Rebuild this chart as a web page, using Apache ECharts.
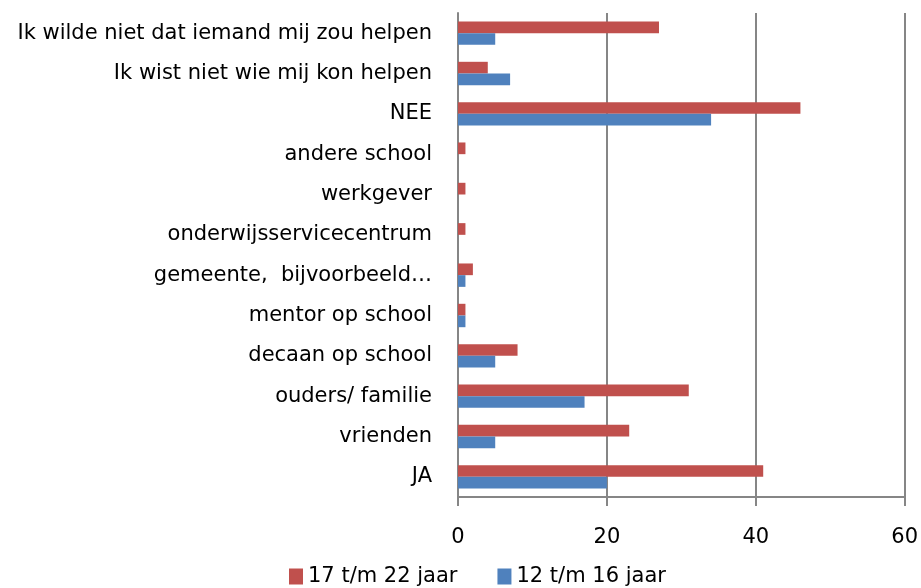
<!DOCTYPE html>
<html><head><meta charset="utf-8">
<script src="https://cdn.jsdelivr.net/npm/echarts@6/dist/echarts.min.js"></script>
<style>html,body{margin:0;padding:0;background:#fff}#c{width:921px;height:588px}</style>
</head><body><div id="c"></div>
<script>
const categories = ['JA','vrienden','ouders/ familie','decaan op school','mentor op school','gemeente,  bijvoorbeeld…','onderwijsservicecentrum','werkgever','andere school','NEE','Ik wist niet wie mij kon helpen','Ik wilde niet dat iemand mij zou helpen'];
const seriesNames = ['17 t/m 22 jaar','12 t/m 16 jaar'];
const older = [41,23,31,8,1,2,1,1,1,46,4,27];
const younger = [20,5,17,5,1,1,0,0,0,34,7,5];
const xTicks = [0,20,40,60];

const font = '"DejaVu Sans", sans-serif';
const chart = echarts.init(document.getElementById('c'));
chart.setOption({
  animation:false,
  grid:{left:458,right:16,top:13,bottom:91},
  legend:{top:561,left:284,data:seriesNames,itemWidth:14,itemHeight:16,itemGap:40,icon:'rect',
    textStyle:{fontFamily:font,fontSize:21,color:'#000'}},
  xAxis:{type:'value',min:xTicks[0],max:xTicks[xTicks.length-1],interval:20,
    axisLine:{show:true,lineStyle:{color:'#868686',width:2}},
    axisTick:{show:true,length:9,lineStyle:{color:'#868686',width:2}},
    splitLine:{show:true,lineStyle:{color:'#868686',width:2}},
    axisLabel:{fontFamily:font,fontSize:21,color:'#000',margin:30}},
  yAxis:{type:'category',data:categories,
    axisLine:{show:true,lineStyle:{color:'#868686',width:2}},
    axisTick:{show:false},
    axisLabel:{fontFamily:font,fontSize:21,color:'#000',margin:26}},
  series:[
    {name:seriesNames[0],type:'bar',data:older,itemStyle:{color:'#C0504D'},barGap:'0%',barCategoryGap:'42%'},
    {name:seriesNames[1],type:'bar',data:younger,itemStyle:{color:'#4F81BD'},barGap:'0%',barCategoryGap:'42%'}
  ]
});
</script></body></html>
